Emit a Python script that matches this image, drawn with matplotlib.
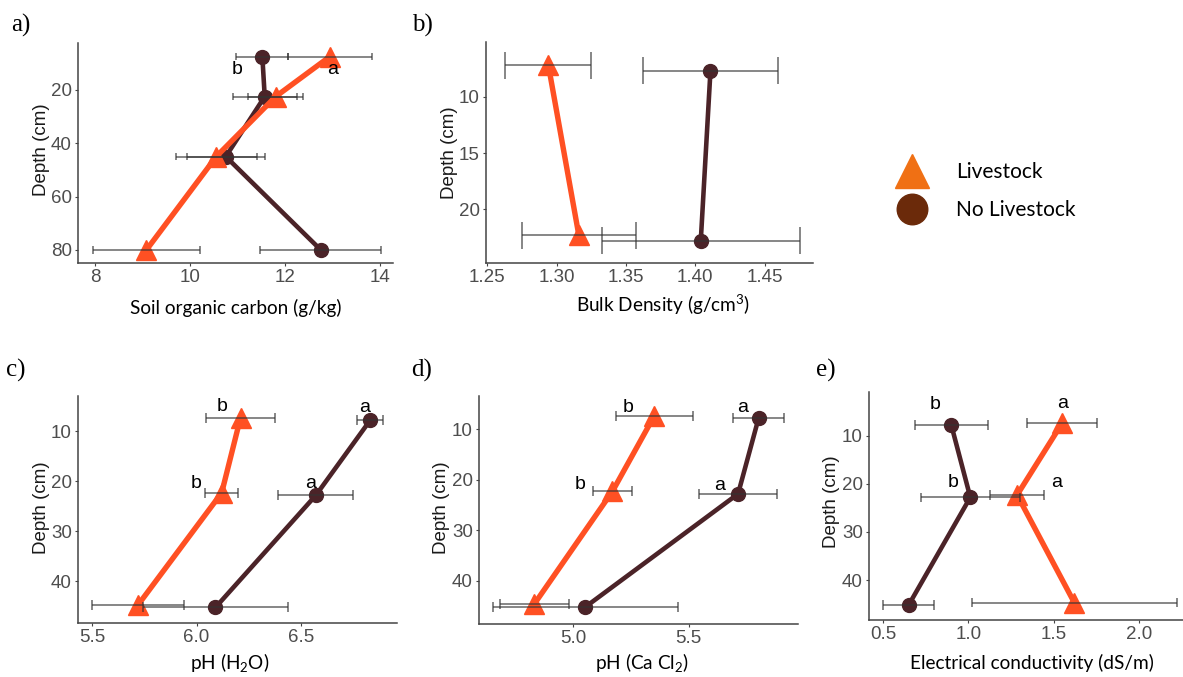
import matplotlib.pyplot as plt
from matplotlib.lines import Line2D

# ---- data ----
soc_depth = [7.5, 22.5, 45, 80]
soc_live = [12.94, 11.80, 10.55, 9.08]
soc_live_err = [0.89, 0.58, 0.85, 1.13]
soc_none = [11.52, 11.57, 10.75, 12.75]
soc_none_err = [0.55, 0.67, 0.82, 1.27]

bd_live_depth = [7.2, 22.3]
bd_none_depth = [7.7, 22.8]
bd_live = [1.294, 1.316]
bd_live_err = [0.031, 0.041]
bd_none = [1.411, 1.404]
bd_none_err = [0.049, 0.0715]

ph_live_depth = [7.3, 22.3, 44.7]
ph_none_depth = [7.8, 22.8, 45.2]
ph_live = [6.21, 6.12, 5.72]
ph_live_err = [0.165, 0.078, 0.218]
ph_none = [6.83, 6.57, 6.09]
ph_none_err = [0.063, 0.18, 0.346]

cacl_live = [5.352, 5.17, 4.83]
cacl_live_err = [0.168, 0.083, 0.15]
cacl_none = [5.804, 5.715, 5.053]
cacl_none_err = [0.11, 0.168, 0.40]

ec_live = [1.55, 1.285, 1.62]
ec_live_err = [0.205, 0.16, 0.60]
ec_none = [0.90, 1.011, 0.65]
ec_none_err = [0.215, 0.29, 0.15]

series_names = ["Livestock", "No Livestock"]

# ---- style ----
W, H = 1183, 677
LIVE = "#FF5023"
NONE = "#4B2328"
TICK_FONT = "Liberation Sans"
TEXT_FONT = "Lato"


def px_box(left, top, right, bottom):
    return [left / W, 1 - bottom / H, (right - left) / W, (bottom - top) / H]


def errbars(ax, x, err, depth, capw):
    for xi, ei, di in zip(x, err, depth):
        ax.hlines(di, xi - ei, xi + ei, color="#333333", lw=1.1, alpha=0.75, zorder=5)
        ax.vlines([xi - ei, xi + ei], di - capw / 2, di + capw / 2,
                  color="#333333", lw=1.1, alpha=0.75, zorder=5)


def panel(fig, box, live, live_err, live_depth, none, none_err, none_depth,
          xlim, ylim, xticks, yticks, xfmt, xlabel, xlab_px, ylab_px, tag, tag_px,
          capw=2.0, letters=()):
    l, t, r, b = box
    ax = fig.add_axes(px_box(*box))
    ax.plot(none, none_depth, color=NONE, lw=3.3, marker="o", ms=10,
            solid_capstyle="round", zorder=2)
    ax.plot(live, live_depth, color=LIVE, lw=3.9, marker="^", ms=14,
            solid_capstyle="round", zorder=3)
    errbars(ax, live, live_err, live_depth, capw)
    errbars(ax, none, none_err, none_depth, capw)
    ax.set_xlim(*xlim)
    ax.set_ylim(*ylim)
    ax.set_xticks(xticks)
    ax.set_xticklabels([xfmt.format(v) for v in xticks])
    ax.set_yticks(yticks)
    for s in ["top", "right"]:
        ax.spines[s].set_visible(False)
    for s in ["left", "bottom"]:
        ax.spines[s].set_color("#444444")
        ax.spines[s].set_linewidth(1.1)
    ax.tick_params(length=2.5, width=0.8, color="#444444", pad=2,
                   labelsize=13.5, labelcolor="#4D4D4D")
    for lab in ax.get_xticklabels() + ax.get_yticklabels():
        lab.set_fontfamily(TICK_FONT)
    ax.set_xlabel(xlabel, fontsize=13.7, family=TEXT_FONT, color="black", va="center")
    ax.xaxis.set_label_coords((xlab_px[0] - l) / (r - l), (b - xlab_px[1]) / (b - t))
    ax.set_ylabel("Depth (cm)", fontsize=13.5, family=TICK_FONT, color="#1A1A1A",
                  va="center")
    ax.yaxis.set_label_coords((ylab_px[0] - l) / (r - l), (b - ylab_px[1]) / (b - t))
    fig.text(tag_px[0] / W, 1 - tag_px[1] / H, tag, fontsize=18,
             family="Liberation Serif", va="center", ha="left")
    for txt, xv, dv, dx, dy in letters:
        ax.annotate(txt, (xv, dv), xytext=(dx, dy), textcoords="offset pixels",
                    ha="center", va="center", fontsize=14, family=TICK_FONT,
                    color="black", zorder=6)
    return ax


fig = plt.figure(figsize=(W / 100, H / 100), dpi=100)

panel(fig, (78, 43, 393, 263), soc_live, soc_live_err, soc_depth,
      soc_none, soc_none_err, soc_depth,
      (7.64, 14.27), (84.9, 2.4), [8, 10, 12, 14], [20, 40, 60, 80], "{:g}",
      "Soil organic carbon (g/kg)", (236, 308), (41, 150), "a)", (11, 25),
      capw=2.8,
      letters=[("b", soc_none[0], soc_depth[0], -25, -13),
               ("a", soc_live[0], soc_depth[0], 3, -13)])

panel(fig, (486, 42, 813, 263), bd_live, bd_live_err, bd_live_depth,
      bd_none, bd_none_err, bd_none_depth,
      (1.249, 1.485), (24.76, 5.15), [1.25, 1.30, 1.35, 1.40, 1.45], [10, 15, 20],
      "{:.2f}", "Bulk Density (g/cm$\\mathregular{^3}$)", (663, 305), (449, 153),
      "b)", (412, 25), capw=2.4)

panel(fig, (78, 396, 397, 623), ph_live, ph_live_err, ph_live_depth,
      ph_none, ph_none_err, ph_none_depth,
      (5.433, 6.958), (48.3, 2.97), [5.5, 6.0, 6.5], [10, 20, 30, 40], "{:.1f}",
      "pH (H$\\mathregular{_2}$O)", (230, 663), (41, 508), "c)", (6, 370),
      letters=[("b", ph_live[0], ph_live_depth[0], -18, 11),
               ("b", ph_live[1], ph_live_depth[1], -26, 9),
               ("a", ph_none[0], ph_none_depth[0], -6, 13),
               ("a", ph_none[1], ph_none_depth[1], -5, 12)])

panel(fig, (479, 396, 798, 624), cacl_live, cacl_live_err, ph_live_depth,
      cacl_none, cacl_none_err, ph_none_depth,
      (4.591, 5.975), (48.6, 3.4), [5.0, 5.5], [10, 20, 30, 40], "{:.1f}",
      "pH (Ca Cl$\\mathregular{_2}$)", (642, 663), (442, 508), "d)", (411, 370),
      letters=[("b", cacl_live[0], ph_live_depth[0], -26, 8),
               ("b", cacl_live[1], ph_live_depth[1], -32, 7),
               ("a", cacl_none[0], ph_none_depth[0], -16, 11),
               ("a", cacl_none[1], ph_none_depth[1], -18, 8)])

panel(fig, (869, 392, 1183, 620), ec_live, ec_live_err, ph_live_depth,
      ec_none, ec_none_err, ph_none_depth,
      (0.418, 2.256), (48.3, 0.9), [0.5, 1.0, 1.5, 2.0], [10, 20, 30, 40], "{:.1f}",
      "Electrical conductivity (dS/m)", (1032, 663), (832, 502), "e)", (816, 370),
      letters=[("b", ec_none[0], ph_none_depth[0], -16, 21),
               ("a", ec_live[0], ph_live_depth[0], 0, 19),
               ("b", ec_none[1], ph_none_depth[1], -17, 15),
               ("a", ec_live[1], ph_live_depth[1], 40, 12)])

handles = [
    Line2D([], [], marker="^", color="#F07014", linestyle="none", markersize=25),
    Line2D([], [], marker="o", color="#6B2A0A", linestyle="none", markersize=22),
]
fig.legend(handles, series_names, loc="upper left", bbox_to_anchor=(885 / W, 1 - 152 / H),
           frameon=False, prop={"family": TEXT_FONT, "size": 15},
           handlelength=1.6, handletextpad=1.3, labelspacing=0.85, borderpad=0)

fig.savefig("out.png", dpi=100)
